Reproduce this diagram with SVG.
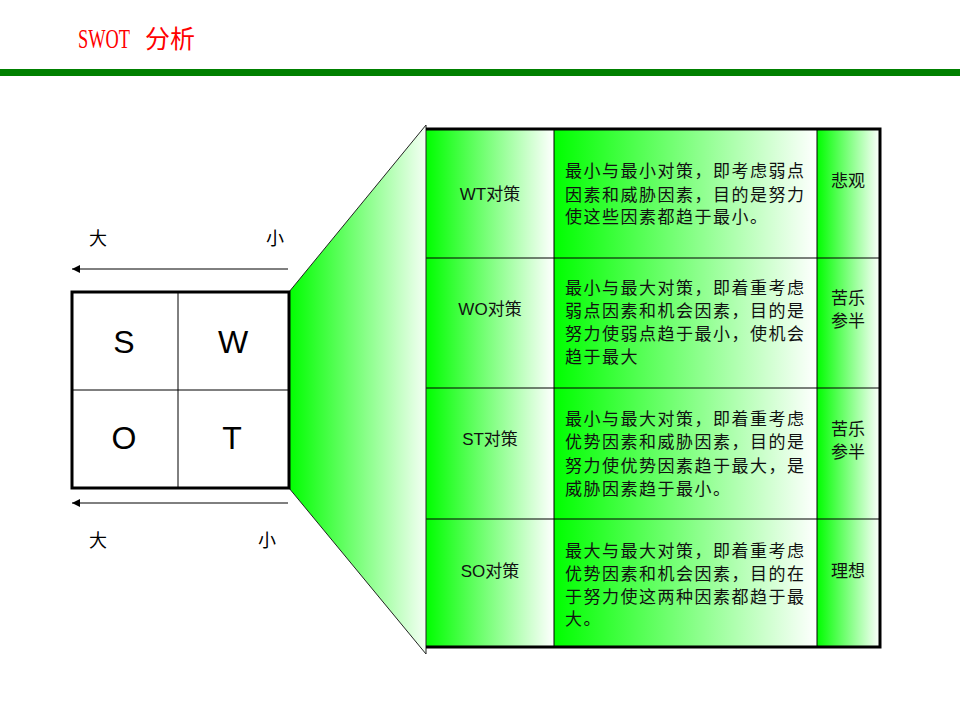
<svg xmlns="http://www.w3.org/2000/svg" width="960" height="720" viewBox="0 0 960 720">
<defs>
<linearGradient id="g" x1="0" y1="0" x2="1" y2="0">
<stop offset="0" stop-color="#00FF00"/>
<stop offset="1" stop-color="#FFFFFF"/>
</linearGradient>
<linearGradient id="gt" x1="0" y1="0" x2="1" y2="0">
<stop offset="0" stop-color="#00FF00"/>
<stop offset="1" stop-color="#F4FFF4"/>
</linearGradient>
<marker id="ah" viewBox="0 0 10 10" refX="10" refY="5" markerWidth="10" markerHeight="8" markerUnits="userSpaceOnUse" orient="auto">
<path d="M0,0 L10,5 L0,10 z" fill="#000"/>
</marker>
</defs>
<style>
.cjk{font-family:"Liberation Sans","Noto Sans CJK SC",sans-serif;font-size:17px;fill:#111}
.body{font-family:"Liberation Sans","Noto Sans CJK SC",sans-serif;font-size:17px;fill:#111;letter-spacing:1.5px}
.mid{text-anchor:middle}
.big{font-family:"Liberation Sans","Noto Sans CJK SC",sans-serif;font-size:32px;fill:#000;text-anchor:middle}
.lbl{font-family:"Liberation Serif","Noto Sans CJK SC",serif;font-size:18px;fill:#000}
.ttl{font-family:"Liberation Serif","Noto Sans CJK SC",serif;fill:#FF0000}
.cell{fill:url(#g)}
.thin{stroke:#000;stroke-width:1;fill:none}
</style>

<g id="title">
<text transform="translate(78,48) scale(0.68,1)" class="ttl" font-size="27">SWOT</text>
<text x="145" y="48" class="ttl" font-size="25">分析</text>
<rect x="0" y="69" width="960" height="7" fill="#008000"/>
</g>

<g id="funnel">
<polygon points="289,292 426,125 426,654 289,488" fill="url(#gt)"/>
<line x1="289" y1="292" x2="426" y2="125" stroke="#222" stroke-width="1"/>
<line x1="289" y1="488" x2="426" y2="654" stroke="#222" stroke-width="1"/>
</g>

<g id="swot-grid">
<rect x="72" y="292" width="217" height="196" fill="#fff" stroke="#000" stroke-width="3"/>
<line x1="178" y1="292" x2="178" y2="488" class="thin"/>
<line x1="72" y1="390" x2="289" y2="390" class="thin"/>
<text x="124" y="353" class="big">S</text>
<text x="233" y="353" class="big">W</text>
<text x="124" y="449" class="big">O</text>
<text x="232" y="449" class="big">T</text>
</g>

<g id="connectors">
<line x1="288" y1="269" x2="72" y2="269" stroke="#000" stroke-width="1" marker-end="url(#ah)"/>
<line x1="288" y1="503" x2="72" y2="503" stroke="#000" stroke-width="1" marker-end="url(#ah)"/>
</g>

<g id="axis-labels">
<text x="89" y="245" class="lbl">大</text>
<text x="266" y="245" class="lbl">小</text>
<text x="89" y="547" class="lbl">大</text>
<text x="258" y="547" class="lbl">小</text>
</g>

<g id="table">
<rect x="426" y="129" width="128" height="129" class="cell"/>
<rect x="554" y="129" width="263" height="129" class="cell"/>
<rect x="817" y="129" width="63" height="129" class="cell"/>
<rect x="426" y="258" width="128" height="130" class="cell"/>
<rect x="554" y="258" width="263" height="130" class="cell"/>
<rect x="817" y="258" width="63" height="130" class="cell"/>
<rect x="426" y="388" width="128" height="131" class="cell"/>
<rect x="554" y="388" width="263" height="131" class="cell"/>
<rect x="817" y="388" width="63" height="131" class="cell"/>
<rect x="426" y="519" width="128" height="128" class="cell"/>
<rect x="554" y="519" width="263" height="128" class="cell"/>
<rect x="817" y="519" width="63" height="128" class="cell"/>
<line x1="554" y1="129" x2="554" y2="647" class="thin"/>
<line x1="817" y1="129" x2="817" y2="647" class="thin"/>
<line x1="426" y1="258" x2="880" y2="258" class="thin"/>
<line x1="426" y1="388" x2="880" y2="388" class="thin"/>
<line x1="426" y1="519" x2="880" y2="519" class="thin"/>
<line x1="426" y1="125" x2="426" y2="654" stroke="#222" stroke-width="1"/>
<path d="M426,129 H880 V647 H426" fill="none" stroke="#000" stroke-width="3"/>
</g>

<g id="row-wt">
<text x="490" y="200" class="cjk mid">WT对策</text>
<text class="body"><tspan x="565" y="177">最小与最小对策，即考虑弱点</tspan><tspan x="565" y="201">因素和威胁因素，目的是努力</tspan><tspan x="565" y="223">使这些因素都趋于最小。</tspan></text>
<text x="848" y="187" class="cjk mid">悲观</text>
</g>

<g id="row-wo">
<text x="490" y="315" class="cjk mid">WO对策</text>
<text class="body"><tspan x="565" y="294">最小与最大对策，即着重考虑</tspan><tspan x="565" y="317">弱点因素和机会因素，目的是</tspan><tspan x="565" y="340">努力使弱点趋于最小，使机会</tspan><tspan x="565" y="363">趋于最大</tspan></text>
<text x="848" y="304" class="cjk mid">苦乐</text>
<text x="848" y="327" class="cjk mid">参半</text>
</g>

<g id="row-st">
<text x="490" y="445" class="cjk mid">ST对策</text>
<text class="body"><tspan x="565" y="425">最小与最大对策，即着重考虑</tspan><tspan x="565" y="448">优势因素和威胁因素，目的是</tspan><tspan x="565" y="472">努力使优势因素趋于最大，是</tspan><tspan x="565" y="495">威胁因素趋于最小。</tspan></text>
<text x="848" y="435" class="cjk mid">苦乐</text>
<text x="848" y="458" class="cjk mid">参半</text>
</g>

<g id="row-so">
<text x="490" y="577" class="cjk mid">SO对策</text>
<text class="body"><tspan x="565" y="557">最大与最大对策，即着重考虑</tspan><tspan x="565" y="580">优势因素和机会因素，目的在</tspan><tspan x="565" y="603">于努力使这两种因素都趋于最</tspan><tspan x="565" y="625">大。</tspan></text>
<text x="848" y="577" class="cjk mid">理想</text>
</g>
</svg>
